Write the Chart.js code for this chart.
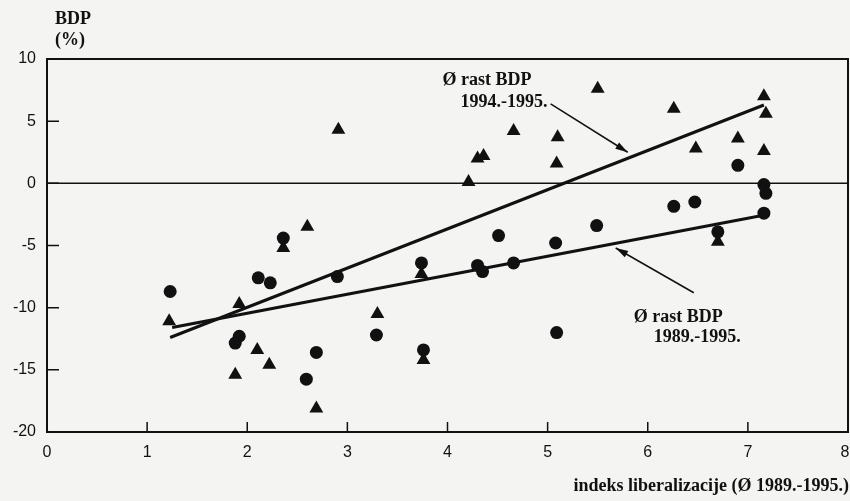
<!DOCTYPE html>
<html>
<head>
<meta charset="utf-8">
<script src="https://cdn.jsdelivr.net/npm/chart.js@4.4.0/dist/chart.umd.min.js"></script>
<style>
  html, body { margin: 0; padding: 0; background: #f4f4f2; }
</style>
</head>
<body>
<canvas id="bdpChart" width="850" height="501"></canvas>
<script>
// tick values
var xTicks = [0, 1, 2, 3, 4, 5, 6, 7, 8];
var yTicks = [10, 5, 0, -5, -10, -15, -20];

// circles: average GDP growth 1989-1995
var libIndex89 = [1.23, 1.92, 1.88, 2.11, 2.23, 2.36, 2.59, 2.69, 2.90, 3.29, 3.74, 3.76, 4.30,
                  4.35, 4.51, 4.66, 5.08, 5.09, 5.49, 6.26, 6.47, 6.70, 6.90, 7.16, 7.18, 7.16];
var growth89 = [-8.7, -12.3, -12.85, -7.6, -8.0, -4.4, -15.75, -13.6, -7.5, -12.2, -6.4, -13.4, -6.6,
                -7.1, -4.2, -6.4, -4.8, -12.0, -3.4, -1.85, -1.5, -3.9, 1.45, -0.1, -0.8, -2.4];

// triangles: average GDP growth 1994-1995
var libIndex94 = [1.22, 1.92, 1.88, 2.10, 2.22, 2.36, 2.60, 2.69, 2.91, 3.30, 3.74, 3.76, 4.21,
                  4.30, 4.36, 4.66, 5.09, 5.10, 5.50, 6.26, 6.48, 6.70, 6.90, 7.16, 7.18, 7.16];
var growth94 = [-11.1, -9.7, -15.4, -13.4, -14.6, -5.2, -3.5, -18.1, 4.3, -10.5, -7.3, -14.2, 0.1,
                2.0, 2.2, 4.2, 1.6, 3.7, 7.6, 6.0, 2.8, -4.7, 3.6, 7.0, 5.6, 2.6];

// trend lines (end points)
var trend89X = [1.25, 7.13];
var trend89Y = [-11.6, -2.6];
var trend94X = [1.23, 7.16];
var trend94Y = [-12.4, 6.3];

function toPoints(xs, ys) {
    var pts = [];
    for (let i = 0; i < xs.length; i++) {
        pts.push({ x: xs[i], y: ys[i] });
    }
    return pts;
}

var ink = "#111111";
var serifBold = "bold 18px 'Liberation Serif', 'DejaVu Serif', serif";
var tickFont = "16px 'Liberation Sans', Arial, sans-serif";

// annotation texts and arrows, in data units
var notes = [
    { text: "Ø rast BDP", x: 3.95, y: 8.27 },
    { text: "1994.-1995.", x: 4.13, y: 6.5 },
    { text: "Ø rast BDP", x: 5.86, y: -10.76 },
    { text: "1989.-1995.", x: 6.06, y: -12.37 }
];
var arrows = [
    { x1: 5.03, y1: 6.4, x2: 5.80, y2: 2.5 },
    { x1: 6.46, y1: -8.8, x2: 5.68, y2: -5.2 }
];

var framePlugin = {
    id: "frame",
    beforeDatasetsDraw: function(chart) {
        var ctx = chart.ctx;
        var a = chart.chartArea;
        var xs = chart.scales.x;
        var ys = chart.scales.y;
        ctx.save();
        ctx.strokeStyle = ink;
        ctx.lineWidth = 2;
        ctx.strokeRect(a.left, a.top, a.right - a.left, a.bottom - a.top);

        ctx.lineWidth = 1.5;
        var y0 = ys.getPixelForValue(0);
        ctx.beginPath();
        ctx.moveTo(a.left, y0);
        ctx.lineTo(a.right, y0);
        ctx.stroke();

        ctx.beginPath();
        yTicks.forEach(function(v) {
            var y = ys.getPixelForValue(v);
            ctx.moveTo(a.left, y);
            ctx.lineTo(a.left + 12, y);
        });
        xTicks.forEach(function(v) {
            var x = xs.getPixelForValue(v);
            ctx.moveTo(x, a.bottom);
            ctx.lineTo(x, a.bottom - 10);
        });
        ctx.stroke();

        // x tick labels
        ctx.fillStyle = ink;
        ctx.font = tickFont;
        ctx.textAlign = "center";
        ctx.textBaseline = "middle";
        xTicks.forEach(function(v) {
            var x = Math.min(xs.getPixelForValue(v), 845);
            ctx.fillText(String(v), x, a.bottom + 21);
        });
        ctx.restore();
    },
    afterDatasetsDraw: function(chart) {
        var ctx = chart.ctx;
        var xs = chart.scales.x;
        var ys = chart.scales.y;
        ctx.save();
        ctx.fillStyle = ink;
        ctx.strokeStyle = ink;
        ctx.font = serifBold;
        ctx.textBaseline = "middle";
        ctx.textAlign = "left";
        notes.forEach(function(n) {
            ctx.fillText(n.text, xs.getPixelForValue(n.x), ys.getPixelForValue(n.y));
        });

        ctx.lineWidth = 1.5;
        arrows.forEach(function(ar) {
            var px1 = xs.getPixelForValue(ar.x1), py1 = ys.getPixelForValue(ar.y1);
            var px2 = xs.getPixelForValue(ar.x2), py2 = ys.getPixelForValue(ar.y2);
            var ang = Math.atan2(py2 - py1, px2 - px1);
            ctx.beginPath();
            ctx.moveTo(px1, py1);
            ctx.lineTo(px2, py2);
            ctx.stroke();
            ctx.beginPath();
            ctx.moveTo(px2, py2);
            ctx.lineTo(px2 - 13 * Math.cos(ang - 0.28), py2 - 13 * Math.sin(ang - 0.28));
            ctx.lineTo(px2 - 13 * Math.cos(ang + 0.28), py2 - 13 * Math.sin(ang + 0.28));
            ctx.closePath();
            ctx.fill();
        });

        // axis titles
        ctx.font = serifBold;
        ctx.textBaseline = "middle";
        ctx.fillText("BDP", 55, 19);
        ctx.fillText("(%)", 55, 40);
        ctx.textAlign = "right";
        ctx.fillText("indeks liberalizacije (Ø 1989.-1995.)", 849, 486);
        ctx.restore();
    }
};

var ctx = document.getElementById("bdpChart").getContext("2d");
var bdpChart = new Chart(ctx, {
    type: "scatter",
    data: {
        datasets: [
            {
                label: "1989.-1995.",
                data: toPoints(libIndex89, growth89),
                pointStyle: "circle",
                pointRadius: 6.5,
                backgroundColor: ink,
                borderWidth: 0
            },
            {
                label: "1994.-1995.",
                data: toPoints(libIndex94, growth94),
                pointStyle: "triangle",
                pointRadius: 8,
                backgroundColor: ink,
                borderWidth: 0
            },
            {
                type: "line",
                label: "trend 1989.-1995.",
                data: toPoints(trend89X, trend89Y),
                borderColor: ink,
                borderWidth: 3,
                pointRadius: 0,
                fill: false
            },
            {
                type: "line",
                label: "trend 1994.-1995.",
                data: toPoints(trend94X, trend94Y),
                borderColor: ink,
                borderWidth: 3,
                pointRadius: 0,
                fill: false
            }
        ]
    },
    options: {
        responsive: false,
        animation: false,
        layout: { autoPadding: false, padding: { top: 59, right: 2, left: 0, bottom: 0 } },
        plugins: {
            legend: { display: false },
            tooltip: { enabled: false }
        },
        scales: {
            x: {
                type: "linear",
                min: 0,
                max: 8,
                afterFit: function(scale) { scale.height = 69; },
                grid: { display: false, drawTicks: false },
                border: { display: false },
                ticks: { display: false }
            },
            y: {
                type: "linear",
                min: -20,
                max: 10,
                afterFit: function(scale) { scale.width = 47; },
                afterBuildTicks: function(scale) {
                    scale.ticks = yTicks.map(function(v) { return { value: v }; });
                },
                grid: { display: false, drawTicks: false },
                border: { display: false },
                ticks: {
                    padding: 11,
                    color: ink,
                    font: { family: "'Liberation Sans', Arial, sans-serif", size: 16 }
                }
            }
        }
    },
    plugins: [framePlugin]
});
</script>
</body>
</html>
